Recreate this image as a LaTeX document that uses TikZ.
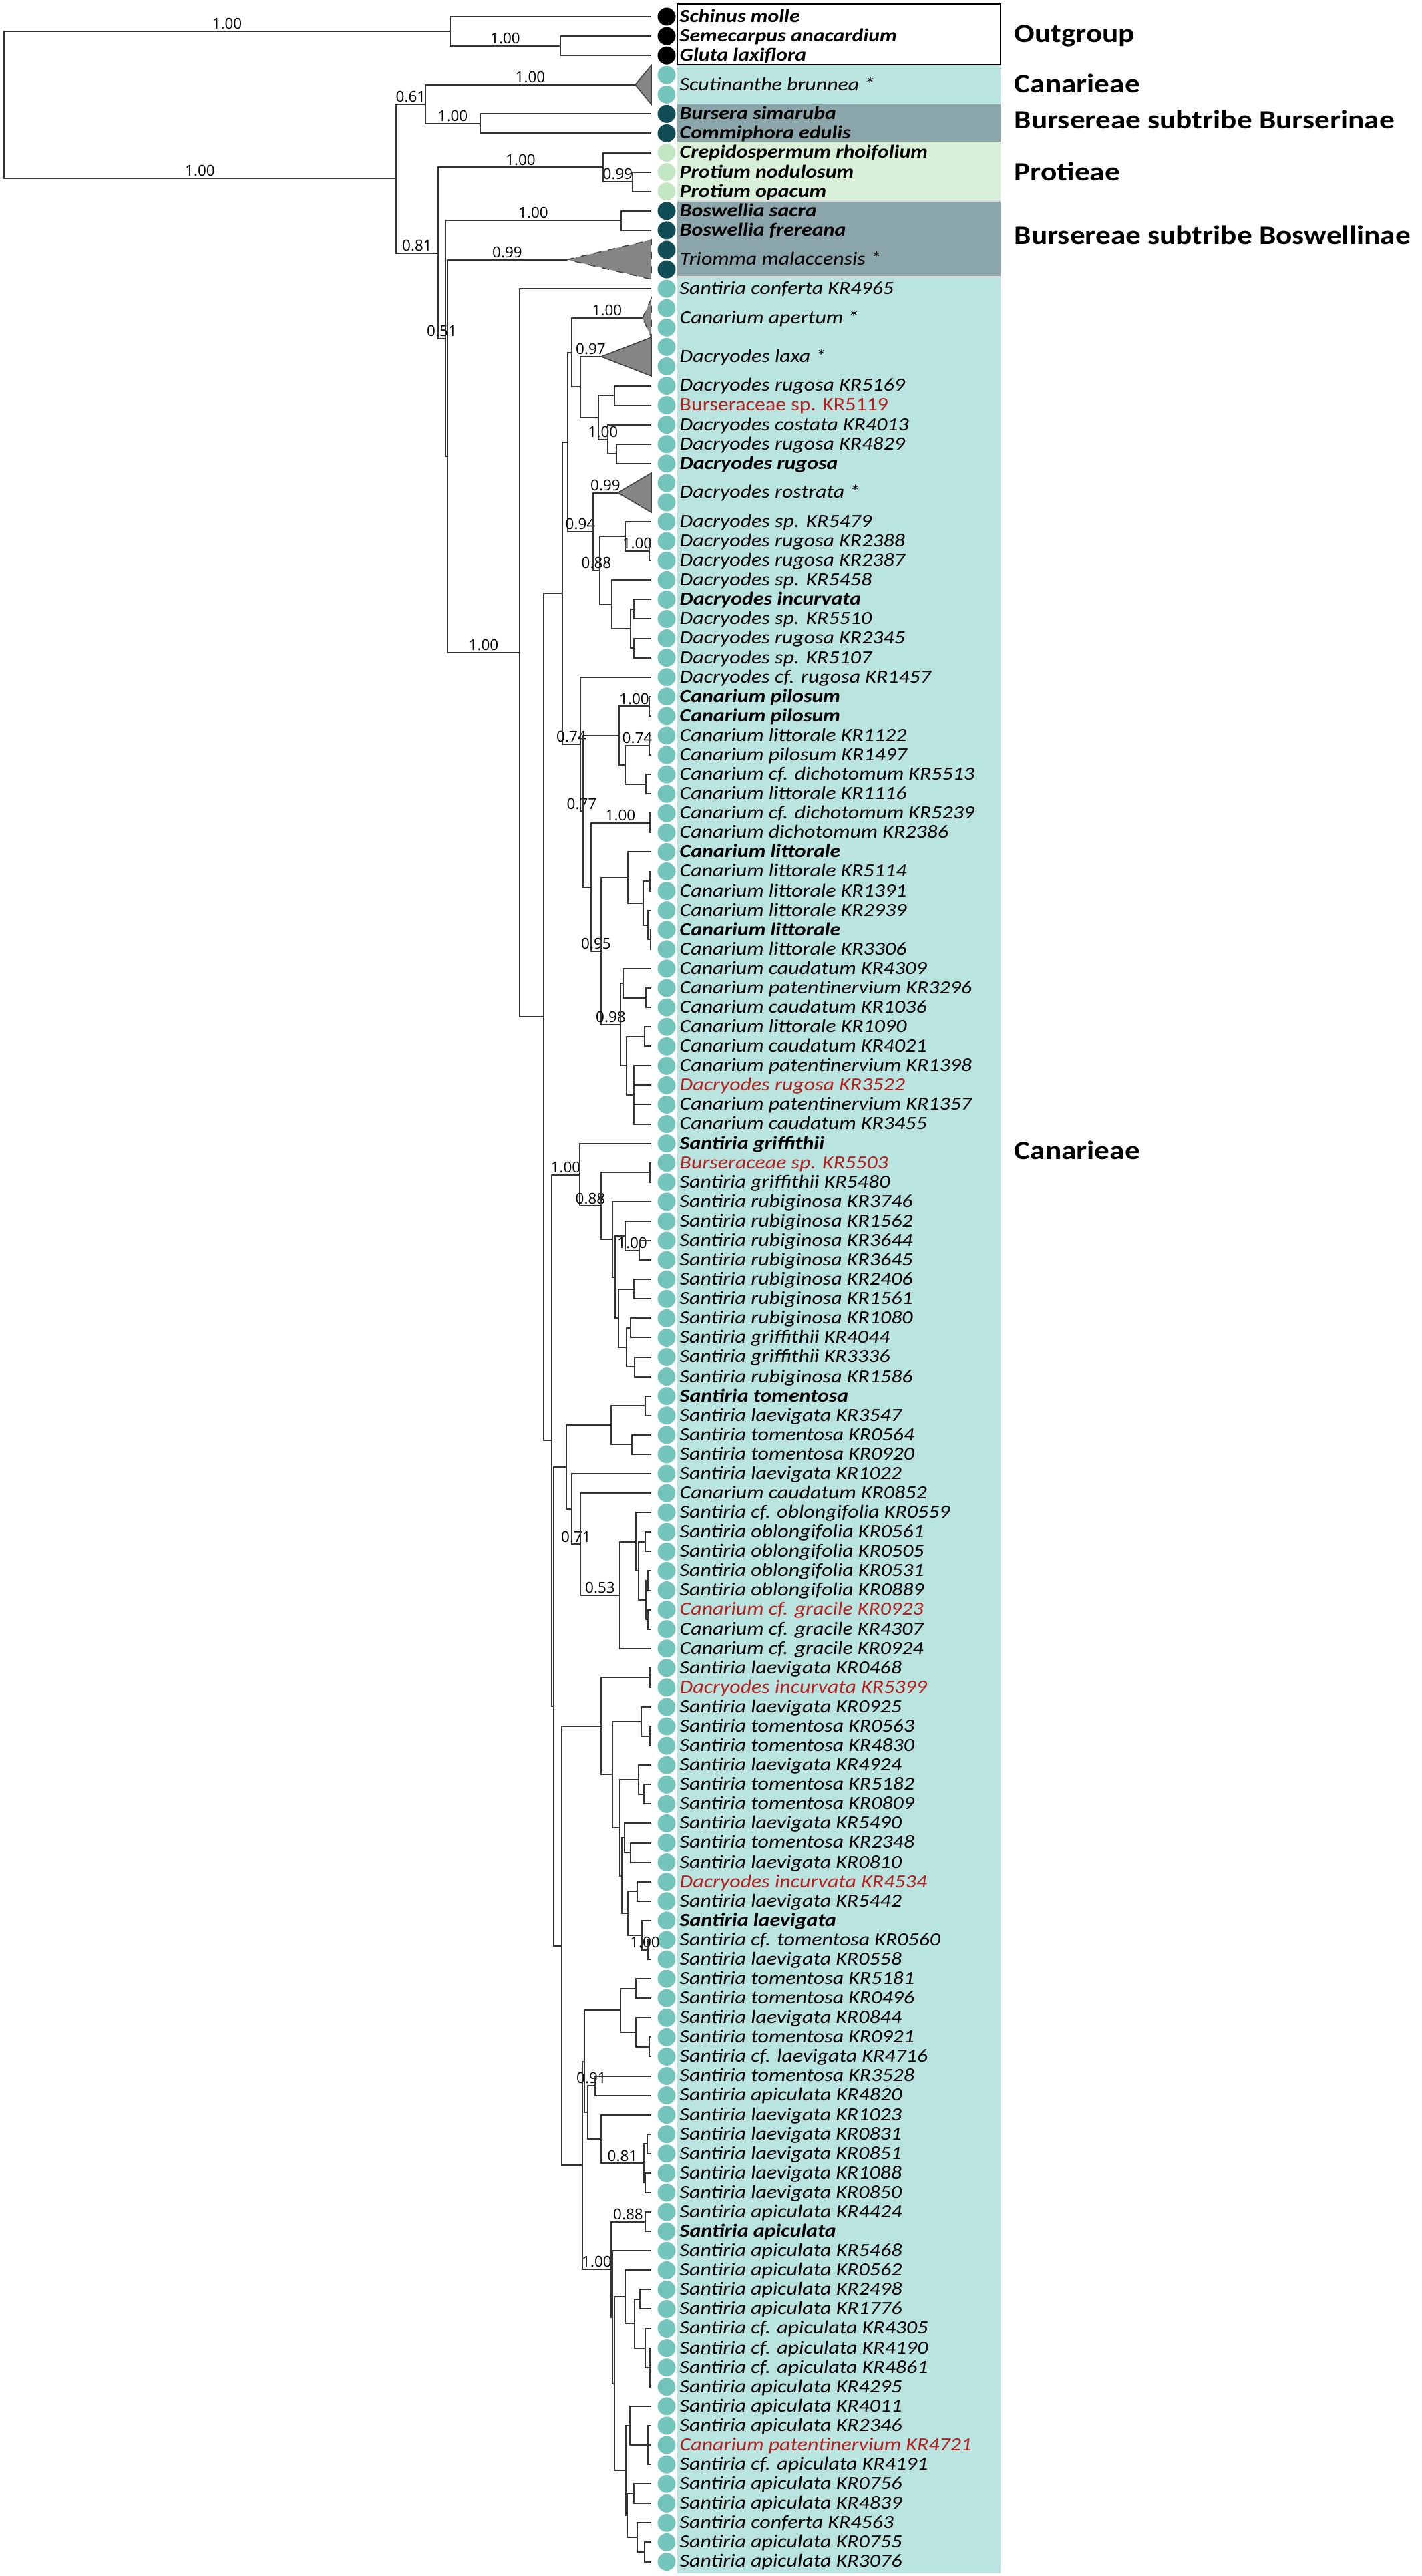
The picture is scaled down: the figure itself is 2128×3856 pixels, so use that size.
\documentclass[tikz,border=0pt]{standalone}
\usepackage{fontspec}
\setmainfont{Carlito}[FakeStretch=1.15]
\newfontfamily\opensans{Open Sans}
\definecolor{bgteal}{HTML}{BAE4E0}
\definecolor{bgdark}{HTML}{8BA6AB}
\definecolor{bggreen}{HTML}{D8F0D8}
\definecolor{dotteal}{HTML}{73C5BC}
\definecolor{dotdark}{HTML}{104D57}
\definecolor{dotgreen}{HTML}{C1E6C1}
\definecolor{lblred}{HTML}{B41E1E}
\tikzstyle{Br} = [draw=black!80, line width=0.2mm]
\tikzstyle{Pp} = [above, inner sep=0.2mm,
			font=\opensans\fontsize{6.4}{7}\selectfont]
\tikzstyle{D} = [circle, inner sep=0pt, minimum size=2.7mm]
\tikzstyle{N} = [anchor=mid west, inner sep=0pt,
			font=\itshape\fontsize{7.9}{9}\selectfont]
\tikzstyle{Nb} = [N, font=\itshape\bfseries\fontsize{7.9}{9}\selectfont]
\tikzstyle{Nr} = [N, text=lblred]
\tikzstyle{Nu} = [N, text=lblred, font=\fontsize{7.9}{9}\selectfont]
\tikzstyle{Grp} = [anchor=mid west, inner sep=0pt,
			font=\bfseries\fontsize{11.2}{13}\selectfont]
\tikzstyle{Tri} = [draw=black!75, fill=black!48, line width=0.15mm]

\begin{document}
\begin{tikzpicture}[x=0.1mm, y=-0.1mm]

\useasboundingbox (0,0) rectangle (2128,3856);

% group panels
\fill[bgteal] (1014,97) rectangle (1498,156);
\fill[bgdark] (1014,156) rectangle (1498,212);
\fill[bggreen] (1014,212) rectangle (1498,299);
\fill[black!15] (1014,299) rectangle (1498,302);
\fill[bgdark] (1014,302) rectangle (1498,413);
\fill[black!15] (1014,413) rectangle (1498,416);
\fill[bgteal] (1014,416) rectangle (1498,3852);
\draw[line width=0.25mm, fill=white] (1014,6) rectangle (1498,97);

% tips and dots
\foreach \a/\b/\c in {0/2/black, 3/4/dotteal, 5/6/dotdark, 7/9/dotgreen,
			10/13/dotdark, 14/131/dotteal}
	\foreach \k in {\a,...,\b} {
		\coordinate (t\k) at (975,{25+29.08*\k});
		\node[D, fill=\c] (dot\k) at (998,{25+29.08*\k}) {};
	}

% inner nodes of the tree
\foreach \n/\x/\y in {root/6/157.0, O/674/46.8, O2/839/68.7, I/593/267.2,
	I1/637/155.9, Bu/719/185.0, aScu/951/126.8, I2/656/378.5,
	Pr1/903/250.4, Pr2/947/272.2, B/667/506.6, Bo/930/330.3,
	Bp/670/682.8, aTri/849/388.5, C/778/977.1, C1/814/1522.1,
	M/842/887.8, N0/850/661.6, N1/856/527.6, aApe/962/475.8,
	N2/869/579.4, aLax/900/533.9, N3/896/624.8, N4/920/592.1,
	N5/910/657.5, N6/923/679.3, N7/888/795.6, aRos/925/737.5,
	N8/898/853.8, N9/936/802.9, N9b/972/824.7, N10/916/904.7,
	N11/944/941.0, N11a/949/912.0, N11b/949/970.1,
	Q/869/1114.0, Q2/873/1214.4, Pi/927/1101.0, Pi1/972/1057.4,
	Pi2/936/1144.6, Pi3/972/1115.5, Pi4/967/1173.7,
	R/885/1327.7, Di/973/1231.8, S/900/1423.6, S1/940/1313.6,
	S2/963/1351.8, S3/973/1319.1, S4/970/1384.5, S5/974/1406.3,
	T/929/1533.5, T1/933/1471.7, T1a/967/1493.6, T2/938/1595.3,
	T2a/965/1551.7, T2b/949/1639.0,
	C3/826/2156.4, G/868/1758.5, G1/900/1805.3, G1a/973/1755.3,
	G2/917/1855.3, G2p/921/1911.6, G3a/936/1849.8, G3n/957/1871.6,
	G3b/926/1973.4, g65/949/1929.8, g67b/938/2017.0, g67/944/1987.9,
	g69/950/2046.1,
	C3p/829/2554.3, E/848/2196.0, E1/915/2133.3, e71/966/2104.3,
	e73/946/2162.4, E2/856/2258.7, E3/869/2311.4, E4/928/2387.8,
	E5/952/2307.8, E6/956/2351.4, E7/966/2307.8, E8/967/2395.0,
	E9/970/2366.0, E10/970/2424.1,
	D1/841/2912.7, D2/900/2583.9, d85/973/2511.4, D4/917/2656.3,
	D5/960/2576.8, d88/973/2598.6, D6/928/2735.8, D6a/956/2664.0,
	d91/964/2685.9, F/931/2807.6, Fa/935/2751.2, d94/944/2773.0,
	Fb/940/2863.9, d96/954/2831.2, d98/961/2896.6, d99/970/2918.5,
	D3/872/3241.4, J/875/3085.7, H/929/3009.3, h101/952/2976.6,
	h103/952/3042.0, h105/972/3063.8, K/880/3162.0, k106/891/3122.0,
	k900/900/3202.0, k964/964/3238.4, k109/969/3209.3, k111/966/3267.4,
	L/915/3397.2, l113/966/3325.6, L2/917/3468.7, L3/920/3568.2,
	l936/936/3438.3, l950/950/3478.3, l117/958/3441.9, l119/966/3514.6,
	l120/973/3543.7, l937/937/3698.2, l943/943/3630.9, l124/970/3660.0,
	l939/939/3765.4, l127/949/3732.7, l954/954/3798.1, l130/965/3820.0}
	\coordinate (\n) at (\x,\y);

% collapsed clades
\path[Tri] (aScu) -- (975,98) -- (975,156) -- cycle;
\path[Tri, dashed] (aTri) -- (975,359) -- (975,418) -- cycle;
\path[Tri, dashed] (aApe) -- (975,447) -- (975,505) -- cycle;
\path[Tri] (aLax) -- (975,505) -- (975,563) -- cycle;
\path[Tri] (aRos) -- (975,708) -- (975,767) -- cycle;

% branches with support values
\foreach \p/\c/\v in {root/O/1.00, root/I/1.00, O/O2/1.00, I/I1/0.61,
	I/I2/0.81, I1/aScu/1.00, I1/Bu/1.00, I2/Pr1/1.00, Pr1/Pr2/0.99,
	I2/B/0.51, B/Bo/1.00, Bp/aTri/0.99, Bp/C/1.00, N1/aApe/1.00,
	N2/aLax/0.97, N3/N5/1.00, N0/N7/0.94, N7/aRos/0.99, N7/N8/0.88,
	N9/N9b/1.00, M/Q/0.74, Pi/Pi1/1.00, Pi2/Pi3/0.74, Q/Q2/0.77,
	R/Di/1.00, R/S/0.95, S/T/0.98, C3/G/1.00, G/G1/0.88, G3a/G3n/1.00,
	E2/E3/0.71, E3/E4/0.53, d98/d99/1.00, K/k106/0.91, k900/k964/0.81,
	L/l113/0.88, D3/L/1.00}
	\path[Br] (\p) |- node[Pp, pos=0.75] {\v} (\c);

% remaining branches
\foreach \p/\c in {O/t0, O2/t1, O2/t2, Bu/t5, Bu/t6, Pr1/t7, Pr2/t8, Pr2/t9,
	B/Bp, Bo/t10, Bo/t11, C/t14, C/C1, C1/M, C1/C3,
	M/N0, N0/N1, N1/N2, N2/N3, N3/N4, N4/t19, N4/t20, N5/t21, N5/N6,
	N6/t22, N6/t23, N8/N9, N8/N10, N9/t26, N9b/t27, N9b/t28, N10/t29,
	N10/N11, N11/N11a, N11/N11b, N11a/t30, N11a/t31, N11b/t32, N11b/t33,
	Q/t34, Q2/Pi, Q2/R, Pi/Pi2, Pi1/t35, Pi1/t36, Pi2/Pi4, Pi3/t37,
	Pi3/t38, Pi4/t39, Pi4/t40, Di/t41, Di/t42, S/S1, S1/t43, S1/S2,
	S2/S3, S2/S4, S3/t44, S3/t45, S4/t46, S4/S5, S5/t47, S5/t48,
	T/T1, T/T2, T1/t49, T1/T1a, T1a/t50, T1a/t51, T2/T2a, T2/T2b,
	T2a/t52, T2a/t53, T2b/t54, T2b/t55, T2b/t56, T2b/t57,
	C3/C3p, G/t58, G1/G1a, G1/G2, G1a/t59, G1a/t60, G2/t61, G2/G2p,
	G2p/G3a, G2p/G3b, G3a/t62, G3n/t63, G3n/t64, G3b/g65, G3b/g67b,
	g65/t65, g65/t66, g67b/g67, g67b/g69, g67/t67, g67/t68, g69/t69,
	g69/t70, C3p/E, C3p/D1, E/E1, E/E2, E1/e71, E1/e73, e71/t71,
	e71/t72, e73/t73, e73/t74, E2/t75, E3/t76, E4/E5, E4/t84, E5/t77,
	E5/E6, E6/E7, E6/E8, E7/t78, E7/t79, E8/E9, E8/E10, E9/t80, E9/t81,
	E10/t82, E10/t83, D1/D2, D1/D3, D2/d85, D2/D4, d85/t85, d85/t86,
	D4/D5, D4/D6, D5/t87, D5/d88, d88/t88, d88/t89, D6/D6a, D6/F,
	D6a/t90, D6a/d91, d91/t91, d91/t92, F/Fa, F/Fb, Fa/t93, Fa/d94,
	d94/t94, d94/t95, Fb/d96, Fb/d98, d96/t96, d96/t97, d98/t98,
	d99/t99, d99/t100, D3/J, J/H, J/K, H/h101, H/h103, h101/t101,
	h101/t102, h103/t103, h103/h105, h105/t104, h105/t105, K/k900,
	k106/t106, k106/t107, k900/t108, k964/k109, k964/k111, k109/t109,
	k109/t110, k111/t111, k111/t112, L/L2, l113/t113, l113/t114,
	L2/t115, L2/L3, L3/l936, L3/l937, l936/t116, l936/l950, l950/l117,
	l950/l119, l117/t117, l117/t118, l119/t119, l119/l120, l120/t120,
	l120/t121, l120/t122, l937/l943, l937/l939, l943/t123, l943/l124,
	l124/t124, l124/t125, l124/t126, l939/l127, l939/l954, l127/t127,
	l127/t128, l954/t129, l954/l130, l130/t130, l130/t131}
	\path[Br] (\p) |- (\c);

% taxon names
\foreach \p/\t/\s [count=\i] in {0/Schinus molle/Nb,
	1/Semecarpus anacardium/Nb, 2/Gluta laxiflora/Nb,
	3.5/Scutinanthe brunnea */N, 5/Bursera simaruba/Nb,
	6/Commiphora edulis/Nb, 7/Crepidospermum rhoifolium/Nb,
	8/Protium nodulosum/Nb, 9/Protium opacum/Nb, 10/Boswellia sacra/Nb,
	11/Boswellia frereana/Nb, 12.5/Triomma malaccensis */N,
	14/Santiria conferta KR4965/N, 15.5/Canarium apertum */N,
	17.5/Dacryodes laxa */N, 19/Dacryodes rugosa KR5169/N,
	20/Burseraceae sp. KR5119/Nu, 21/Dacryodes costata KR4013/N,
	22/Dacryodes rugosa KR4829/N, 23/Dacryodes rugosa/Nb,
	24.5/Dacryodes rostrata */N, 26/Dacryodes sp. KR5479/N,
	27/Dacryodes rugosa KR2388/N, 28/Dacryodes rugosa KR2387/N,
	29/Dacryodes sp. KR5458/N, 30/Dacryodes incurvata/Nb,
	31/Dacryodes sp. KR5510/N, 32/Dacryodes rugosa KR2345/N,
	33/Dacryodes sp. KR5107/N, 34/Dacryodes cf. rugosa KR1457/N,
	35/Canarium pilosum/Nb, 36/Canarium pilosum/Nb,
	37/Canarium littorale KR1122/N, 38/Canarium pilosum KR1497/N,
	39/Canarium cf. dichotomum KR5513/N, 40/Canarium littorale KR1116/N,
	41/Canarium cf. dichotomum KR5239/N, 42/Canarium dichotomum KR2386/N,
	43/Canarium littorale/Nb, 44/Canarium littorale KR5114/N,
	45/Canarium littorale KR1391/N, 46/Canarium littorale KR2939/N,
	47/Canarium littorale/Nb, 48/Canarium littorale KR3306/N,
	49/Canarium caudatum KR4309/N, 50/Canarium patentinervium KR3296/N,
	51/Canarium caudatum KR1036/N, 52/Canarium littorale KR1090/N,
	53/Canarium caudatum KR4021/N, 54/Canarium patentinervium KR1398/N,
	55/Dacryodes rugosa KR3522/Nr, 56/Canarium patentinervium KR1357/N,
	57/Canarium caudatum KR3455/N, 58/Santiria griffithii/Nb,
	59/Burseraceae sp. KR5503/Nr, 60/Santiria griffithii KR5480/N,
	61/Santiria rubiginosa KR3746/N, 62/Santiria rubiginosa KR1562/N,
	63/Santiria rubiginosa KR3644/N, 64/Santiria rubiginosa KR3645/N,
	65/Santiria rubiginosa KR2406/N, 66/Santiria rubiginosa KR1561/N,
	67/Santiria rubiginosa KR1080/N, 68/Santiria griffithii KR4044/N,
	69/Santiria griffithii KR3336/N, 70/Santiria rubiginosa KR1586/N,
	71/Santiria tomentosa/Nb, 72/Santiria laevigata KR3547/N,
	73/Santiria tomentosa KR0564/N, 74/Santiria tomentosa KR0920/N,
	75/Santiria laevigata KR1022/N, 76/Canarium caudatum KR0852/N,
	77/Santiria cf. oblongifolia KR0559/N,
	78/Santiria oblongifolia KR0561/N, 79/Santiria oblongifolia KR0505/N,
	80/Santiria oblongifolia KR0531/N, 81/Santiria oblongifolia KR0889/N,
	82/Canarium cf. gracile KR0923/Nr, 83/Canarium cf. gracile KR4307/N,
	84/Canarium cf. gracile KR0924/N, 85/Santiria laevigata KR0468/N,
	86/Dacryodes incurvata KR5399/Nr, 87/Santiria laevigata KR0925/N,
	88/Santiria tomentosa KR0563/N, 89/Santiria tomentosa KR4830/N,
	90/Santiria laevigata KR4924/N, 91/Santiria tomentosa KR5182/N,
	92/Santiria tomentosa KR0809/N, 93/Santiria laevigata KR5490/N,
	94/Santiria tomentosa KR2348/N, 95/Santiria laevigata KR0810/N,
	96/Dacryodes incurvata KR4534/Nr, 97/Santiria laevigata KR5442/N,
	98/Santiria laevigata/Nb, 99/Santiria cf. tomentosa KR0560/N,
	100/Santiria laevigata KR0558/N, 101/Santiria tomentosa KR5181/N,
	102/Santiria tomentosa KR0496/N, 103/Santiria laevigata KR0844/N,
	104/Santiria tomentosa KR0921/N, 105/Santiria cf. laevigata KR4716/N,
	106/Santiria tomentosa KR3528/N, 107/Santiria apiculata KR4820/N,
	108/Santiria laevigata KR1023/N, 109/Santiria laevigata KR0831/N,
	110/Santiria laevigata KR0851/N, 111/Santiria laevigata KR1088/N,
	112/Santiria laevigata KR0850/N, 113/Santiria apiculata KR4424/N,
	114/Santiria apiculata/Nb, 115/Santiria apiculata KR5468/N,
	116/Santiria apiculata KR0562/N, 117/Santiria apiculata KR2498/N,
	118/Santiria apiculata KR1776/N, 119/Santiria cf. apiculata KR4305/N,
	120/Santiria cf. apiculata KR4190/N, 121/Santiria cf. apiculata KR4861/N,
	122/Santiria apiculata KR4295/N, 123/Santiria apiculata KR4011/N,
	124/Santiria apiculata KR2346/N,
	125/Canarium patentinervium KR4721/Nr,
	126/Santiria cf. apiculata KR4191/N, 127/Santiria apiculata KR0756/N,
	128/Santiria apiculata KR4839/N, 129/Santiria conferta KR4563/N,
	130/Santiria apiculata KR0755/N, 131/Santiria apiculata KR3076/N}
	\node[\s] (lab\i) at (1017,{25+29.08*\p}) {\t};

% group names
\node[Grp] (grpout) at (1518,55) {Outgroup};
\node[Grp] (grpcan) at (1518,130) {Canarieae};
\node[Grp] (grpbur) at (1518,184) {Bursereae subtribe Burserinae};
\node[Grp] (grppro) at (1518,262) {Protieae};
\node[Grp] (grpbos) at (1518,357) {Bursereae subtribe Boswellinae};
\node[Grp] (grpcan2) at (1518,1727) {Canarieae};

\end{tikzpicture}
\end{document}
